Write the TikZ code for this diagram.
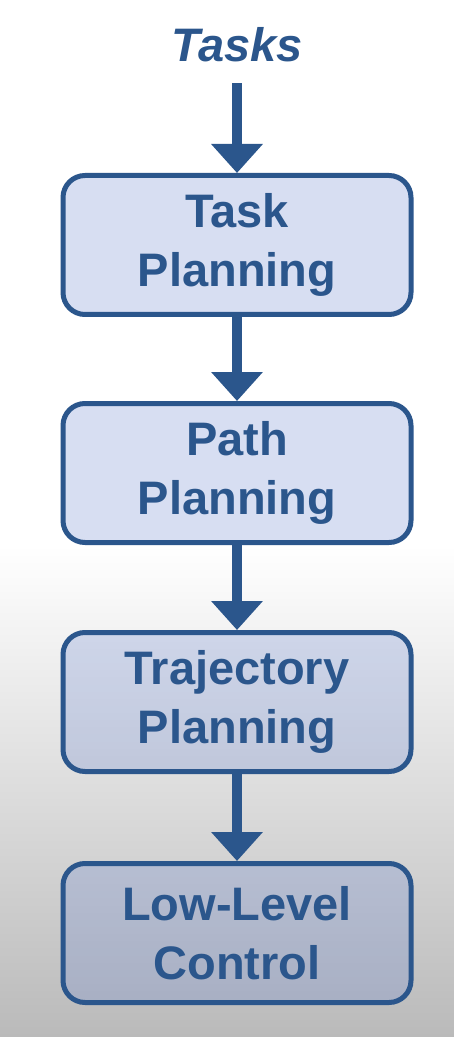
\documentclass[tikz,border=0pt]{standalone}
\usepackage{fontspec}
\setmainfont{Liberation Sans}
\usetikzlibrary{arrows.meta}
\usetikzlibrary{positioning}
\definecolor{navy}{RGB}{43,86,140}
\definecolor{boxblue}{RGB}{109,136,210}
\definecolor{bggray}{RGB}{186,186,186}

\begin{document}
\begin{tikzpicture}[x=0.5pt,y=-0.5pt,
    stage/.style={draw=navy,line width=2.5pt,rounded corners=11pt,fill=boxblue,fill opacity=0.27,text opacity=1,
        text=navy,minimum width=174pt,minimum height=69.5pt,align=center,
        font=\bfseries\fontsize{23.5}{29.5}\selectfont},
    flow/.style={navy,line width=5pt,-{Triangle[width=25pt,length=14.5pt]}}]
    % background
    \useasboundingbox (0,0) rectangle (454,1037);
    \fill[white] (0,0) rectangle (454,1037);
    \shade[top color=white,bottom color=bggray] (0,545) rectangle (454,1037);
    % stages
    \node[text=navy,font=\bfseries\itshape\fontsize{23.5}{29.5}\selectfont] (tasks) at (237,45) {Tasks};
    \node[stage] (task) at (237,245) {Task\\Planning};
    \node[stage] (path) at (237,473) {Path\\Planning};
    \node[stage] (traj) at (237,702) {Trajectory\\Planning};
    \node[stage] (ctrl) at (237,933) {Low-Level\\Control};
    % arrows
    \draw[flow,shorten <=7pt] (tasks) -- (task);
    \draw[flow] (task) -- (path);
    \draw[flow] (path) -- (traj);
    \draw[flow] (traj) -- (ctrl);
\end{tikzpicture}
\end{document}
